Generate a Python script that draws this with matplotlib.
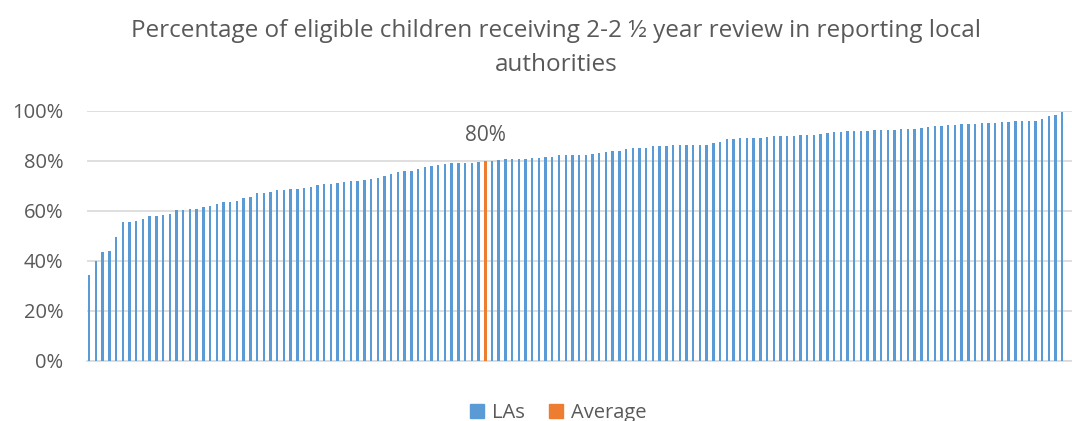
import numpy as np
import matplotlib
matplotlib.use("Agg")
import matplotlib.pyplot as plt
from matplotlib.patches import Patch
from matplotlib.ticker import PercentFormatter

# Values (percent), one per local authority, sorted
la_values = [
    34.6, 39.9, 43.5, 43.9, 49.7, 55.5, 55.7, 56.1, 56.6, 58.1, 58.1, 58.5,
    59.0, 60.5, 60.6, 60.7, 60.9, 61.8, 61.9, 62.8, 63.7, 63.7, 64.2, 65.3,
    65.8, 67.2, 67.2, 67.6, 68.5, 68.5, 68.8, 68.9, 69.2, 69.4, 70.5, 70.8,
    70.9, 71.2, 71.7, 72.0, 72.1, 72.4, 73.0, 73.3, 74.0, 74.9, 75.7, 76.0,
    76.1, 76.9, 77.6, 78.1, 78.5, 79.0, 79.3, 79.3, 79.4, 79.4, 79.7,
    80.1, 80.4, 80.8, 80.8, 80.9, 80.9, 81.2, 81.2, 81.6, 81.8, 82.3,
    82.4, 82.4, 82.4, 82.6, 82.9, 83.2, 83.7, 84.0, 84.1, 84.9, 85.2, 85.3,
    85.3, 86.0, 86.0, 86.0, 86.4, 86.5, 86.6, 86.6, 86.6, 86.6, 87.3, 87.6,
    88.8, 88.9, 89.1, 89.1, 89.2, 89.3, 89.7, 89.9, 89.9, 90.0, 90.1, 90.3,
    90.4, 90.5, 90.8, 91.2, 91.5, 91.6, 91.9, 92.0, 92.1, 92.1, 92.4, 92.4,
    92.5, 92.5, 92.7, 92.9, 92.9, 93.2, 93.7, 94.1, 94.1, 94.4, 94.5, 94.8,
    94.8, 94.9, 95.2, 95.3, 95.3, 95.5, 95.7, 95.9, 95.9, 95.9, 95.9, 96.7,
    98.1, 98.4, 99.7,
]
average = 80.0
series_names = ["LAs", "Average"]

title = "Percentage of eligible children receiving 2-2 \u00bd year review in reporting local\nauthorities"

BLUE = "#5B9BD5"
ORANGE = "#ED7D31"
GREY_TXT = "#595959"
GRID = "#D9D9D9"

plt.rcParams["font.family"] = ["Open Sans", "DejaVu Sans"]

# merge the average into the sorted list so it sits at its rank
vals = np.array(la_values + [average]) / 100.0
is_avg = np.array([False] * len(la_values) + [True])
order = np.argsort(vals, kind="stable")
vals = vals[order]
is_avg = is_avg[order]
x = np.arange(len(vals))
avg_idx = int(np.where(is_avg)[0][0])

fig = plt.figure(figsize=(10.72, 4.21), dpi=100)
ax = fig.add_axes([87 / 1072, 60 / 421, 1 - 87 / 1072, 250 / 421])

ax.bar(x[~is_avg], vals[~is_avg], width=0.36, color=BLUE, zorder=3)
ax.bar(x[is_avg], vals[is_avg], width=0.45, color=ORANGE, zorder=3)

ax.annotate(f"{average:.0f}%", (avg_idx, vals[avg_idx]), xytext=(0, 11),
            textcoords="offset points", ha="center", va="bottom",
            fontsize=15, color=GREY_TXT)

ax.set_xlim(-0.34, 146.45)
ax.set_ylim(0, 1.0)
ax.set_yticks(np.arange(0, 1.01, 0.2))
ax.yaxis.set_major_formatter(PercentFormatter(1.0, decimals=0))
ax.set_xticks([])
ax.tick_params(axis="y", length=0, pad=17, labelsize=14.5, labelcolor=GREY_TXT)
ax.grid(axis="y", color=GRID, linewidth=1.2, zorder=0)
for side in ["top", "right", "left"]:
    ax.spines[side].set_visible(False)
ax.spines["bottom"].set_color(GRID)
ax.spines["bottom"].set_linewidth(1.2)
ax.spines["bottom"].set_zorder(1)

lines = title.split("\n")
fig.text(556 / 1072, 1 - 37 / 421, lines[0], ha="center", va="baseline",
         fontsize=17.5, color=GREY_TXT)
fig.text(556 / 1072, 1 - 71 / 421, lines[1], ha="center", va="baseline",
         fontsize=17.5, color=GREY_TXT)

handles = [Patch(color=BLUE), Patch(color=ORANGE)]
fig.legend(handles, series_names, loc="upper center",
           bbox_to_anchor=(558 / 1072, 1 - 391 / 421), ncol=2, frameon=False,
           fontsize=14.5, labelcolor=GREY_TXT, handlelength=0.7, handleheight=0.7,
           handletextpad=0.4, columnspacing=1.2, borderpad=0.1)

fig.savefig("out.png", dpi=100)
